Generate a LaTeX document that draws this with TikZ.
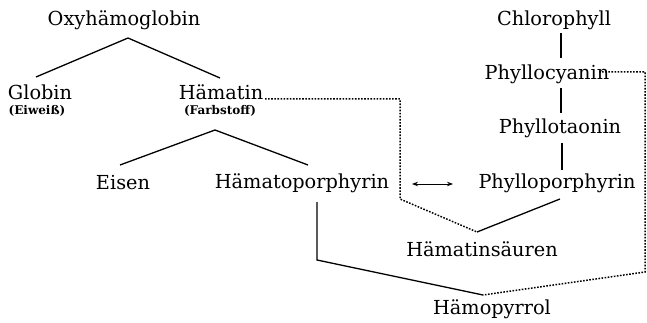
\documentclass[tikz,border=0pt]{standalone}
\usepackage{fontspec}
\setmainfont{DejaVu Serif}
\usetikzlibrary{arrows.meta}
\begin{document}
\begin{tikzpicture}[x=1pt,y=-1pt,
  txt/.style={inner sep=0pt,font=\fontsize{19.3}{22}\selectfont},
  sml/.style={inner sep=0pt,font=\fontsize{12}{14}\selectfont\bfseries},
  ln/.style={line width=1.3pt},
  dl/.style={line width=1.5pt,dash pattern=on 1.6pt off 1.5pt}]
\useasboundingbox (0,0) rectangle (647,323);
% texts
\node[txt] (oxy) at (124,20) {Oxyhämoglobin};
\node[txt] (glob) at (40,92) {Globin};
\node[sml] (eiw) at (37,111) {(Eiweiß)};
\node[txt] (haem) at (221,92) {Hämatin};
\node[sml] (farb) at (220,111) {(Farbstoff)};
\node[txt] (eis) at (123,183) {Eisen};
\node[txt] (hpor) at (302,183) {Hämatoporphyrin};
\node[txt] (chl) at (554,20) {Chlorophyll};
\node[txt] (pcy) at (547,74) {Phyllocyanin};
\node[txt] (pta) at (560,128) {Phyllotaonin};
\node[txt] (ppor) at (557,183) {Phylloporphyrin};
\node[txt] (hsr) at (482,249) {Hämatinsäuren};
\node[txt] (hpy) at (492,309) {Hämopyrrol};
% points
\coordinate (a1) at (128,38);
\coordinate (g1) at (36,77);
\coordinate (h1) at (220,78);
\coordinate (a2) at (215,130);
\coordinate (e1) at (120,165);
\coordinate (p1) at (308,165);
\coordinate (hp1) at (317,202);
\coordinate (hp2) at (317,260);
\coordinate (py) at (483,295);
\coordinate (hs) at (477,232);
\coordinate (pp1) at (560,199);
\coordinate (c1) at (561,33);
\coordinate (c2) at (561,58);
\coordinate (c3) at (561,88);
\coordinate (c4) at (561,113);
\coordinate (c5) at (562,143);
\coordinate (c6) at (562,170);
\coordinate (ar1) at (412,184);
\coordinate (ar2) at (453,184);
\coordinate (d1) at (265,99);
\coordinate (d2) at (400,99);
\coordinate (d3) at (400,199);
\coordinate (r1) at (599,72);
\coordinate (r2) at (645,72);
\coordinate (r3) at (645,272);
% solid
\draw[ln] (g1) -- (a1) -- (h1);
\draw[ln] (e1) -- (a2) -- (p1);
\draw[ln] (hp1) -- (hp2) -- (py);
\draw[ln] (pp1) -- (hs);
\draw[ln] (c1) -- (c2);
\draw[ln] (c3) -- (c4);
\draw[ln] (c5) -- (c6);
\draw[line width=1pt,{Stealth[length=6pt,width=4.5pt]}-{Stealth[length=6pt,width=4.5pt]}] (ar1) -- (ar2);
% dotted
\draw[dl] (d1) -- (d2) -- (d3) -- (hs);
\draw[dl] (r1) -- (r2) -- (r3) -- (py);
\end{tikzpicture}
\end{document}
